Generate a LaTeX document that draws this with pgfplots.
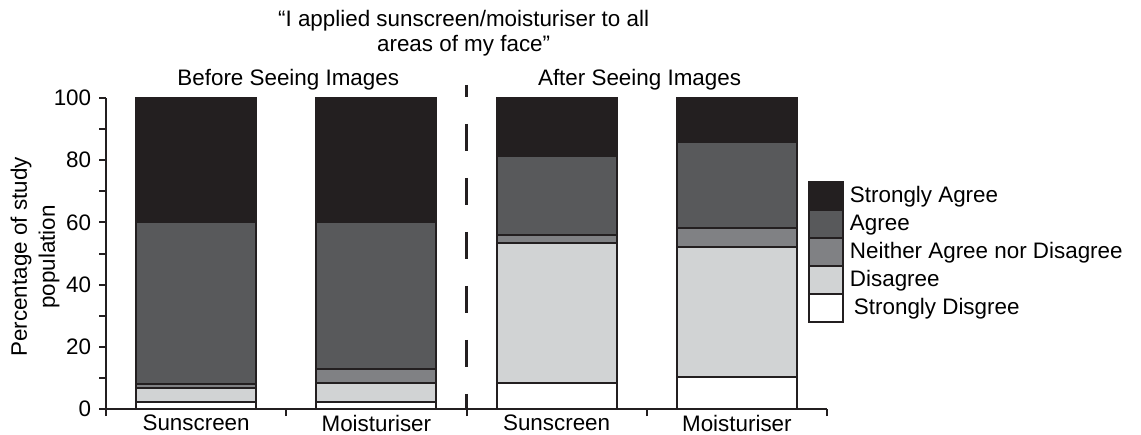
\documentclass[border=0pt]{standalone}
\usepackage{pgfplots}
\pgfplotsset{compat=1.18}
\usepackage{fontspec}
\setmainfont{Liberation Sans}
\definecolor{cline}{HTML}{231F20}
\definecolor{cSA}{HTML}{231F20}
\definecolor{cA}{HTML}{58595B}
\definecolor{cN}{HTML}{808184}
\definecolor{cD}{HTML}{D1D3D4}
\definecolor{cSD}{HTML}{FFFFFF}
\pgfplotsset{mylegend/.style={legend image code/.code={\draw[#1] (0pt,-7pt) rectangle (17pt,7pt);}}}
\begin{document}
\fontsize{11.2}{13.4}\selectfont
\begin{tikzpicture}
\useasboundingbox (-53pt,-12.5pt) rectangle (517.5pt,204.5pt);
\begin{axis}[
  at={(0pt,0pt)}, anchor=south west,
  scale only axis, width=360.5pt, height=155.5pt,
  ybar stacked, bar width=60pt,
  xmin=-0.5, xmax=3.5, ymin=0, ymax=100,
  axis x line*=bottom, axis y line*=left,
  axis line style={-, line width=1pt, color=cline},
  xtick={0,1,2,3},
  xticklabels={Sunscreen,Moisturiser,Sunscreen,Moisturiser},
  major x tick style={draw=none},
  minor xtick={-0.5,0.5,1.5,2.5,3.5},
  ytick={0,20,40,60,80,100}, minor ytick={10,30,50,70,90},
  tick align=outside, major tick length=3.5pt, minor tick length=3.5pt,
  tick style={line width=1pt, color=cline},
  every tick label/.append style={font=\fontsize{11.2}{13.4}\selectfont},
  x tick label style={yshift=4.5pt},
  /pgf/number format/assume math mode=true,
  ylabel={Percentage of study\\population},
  ylabel style={align=center, at={(axis description cs:-0.064,0.489)}, anchor=south, inner sep=0pt, font=\fontsize{11.2}{14}\selectfont},
  title={“I applied sunscreen/moisturiser to all\\areas of my face”},
  title style={align=center, at={(axis description cs:0.496,1.245)}, anchor=north, inner sep=0pt, font=\fontsize{11.2}{12.5}\selectfont},
  clip=false,
  reverse legend,
  legend style={at={(axis description cs:0.9736,0.733)}, anchor=north west, draw=none, fill=none, inner sep=0pt, outer sep=0pt, row sep=-1pt, cells={anchor=west}, font=\fontsize{11.2}{13.4}\selectfont, /tikz/every odd column/.append style={column sep=1pt}},
]
\addplot[fill=cSD, draw=cline, line width=1pt, mylegend] coordinates {(0,2.4) (1,2.4) (2,8.3) (3,10.4)};
\addplot[fill=cD, draw=cline, line width=1pt, mylegend] coordinates {(0,4.3) (1,5.9) (2,45.0) (3,41.6)};
\addplot[fill=cN, draw=cline, line width=1pt, mylegend] coordinates {(0,1.5) (1,4.5) (2,2.5) (3,6.2)};
\addplot[fill=cA, draw=cline, line width=1pt, mylegend] coordinates {(0,51.8) (1,47.2) (2,25.4) (3,27.5)};
\addplot[fill=cSA, draw=cline, line width=1pt, mylegend] coordinates {(0,40.0) (1,40.0) (2,18.8) (3,14.3)};
\legend{\hspace{2pt}Strongly Disgree, Disagree, Neither Agree nor Disagree, Agree, Strongly Agree}
\node[anchor=base] at (axis description cs:0.2528,1.0386) {Before Seeing Images};
\node[anchor=base] at (axis description cs:0.740,1.0386) {After Seeing Images};
\draw[line width=1.5pt, color=cline, dash pattern=on 13.5pt off 13.5pt, dash phase=7.5pt] (axis cs:1.5,104.2) -- (axis cs:1.5,0);
\end{axis}
\end{tikzpicture}
\end{document}
